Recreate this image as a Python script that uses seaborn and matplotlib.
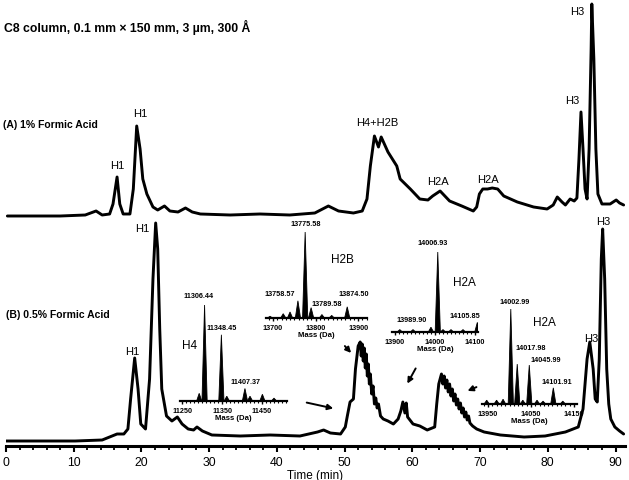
import matplotlib
matplotlib.use("Agg")
import matplotlib.pyplot as plt
from matplotlib.ticker import MultipleLocator, FixedLocator
import pandas as pd
import seaborn as sns

sns.set_theme(style="white")
plt.rcParams['font.family'] = ['Liberation Sans', 'DejaVu Sans']
plt.rcParams['text.color'] = 'black'
plt.rcParams['xtick.color'] = 'black'
plt.rcParams['axes.labelcolor'] = 'black'

# ---------------- data ----------------
# chromatogram (A) 1% formic acid: time (min), signal (arb.)
time_a = [0.2, 8.0, 11.7, 13.3, 14.2, 15.3, 15.8, 16.4, 16.8, 17.3, 18.3, 18.8, 19.3, 19.8,
          20.2, 20.8, 21.7, 22.4, 23.4, 24.2, 25.4, 26.5, 27.5, 28.7, 33.1, 37.5, 41.9, 45.6,
          47.6, 49.1, 51.3, 52.6, 53.3, 53.8, 54.4, 55.0, 55.4, 56.4, 57.7, 58.2, 59.7, 61.1,
          62.3, 63.0, 64.1, 64.8, 65.5, 67.3, 69.0, 69.5, 69.9, 70.4, 71.1, 71.8, 72.6, 73.5,
          74.5, 75.5, 77.9, 79.9, 80.8, 81.4, 82.1, 82.6, 83.3, 83.9, 84.3, 84.6, 84.9, 85.2,
          85.5, 85.8, 86.1, 86.4, 86.5, 86.8, 87.1, 87.4, 88.0, 89.2, 90.1, 90.6, 91.2]
signal_a = [230, 230, 231, 235, 231, 232, 242, 269, 242, 232, 232, 257, 320, 297,
            267, 252, 239, 236, 240, 235, 234, 238, 234, 232, 231, 232, 231, 233,
            240, 235, 233, 235, 247, 280, 310, 299, 309, 294, 280, 267, 257, 247,
            246, 250, 255, 250, 245, 240, 235, 239, 252, 257, 257, 258, 257, 250,
            247, 244, 239, 237, 241, 249, 244, 241, 247, 245, 248, 287, 334, 297,
            257, 247, 297, 397, 442, 387, 297, 252, 242, 242, 246, 243, 241]

# chromatogram (B) 0.5% formic acid
time_b = [0.0, 10.2, 14.2, 15.3, 16.4, 17.4, 18.0, 18.4, 19.0, 19.5, 19.9, 20.6, 21.2, 21.7,
          22.1, 22.4, 22.7, 23.0, 23.7, 24.5, 25.3, 26.0, 26.9, 27.7, 28.2, 29.0, 30.4, 34.6,
          39.0, 43.4, 46.0, 46.9, 47.9, 49.4, 50.1, 50.4, 50.8, 51.3, 51.6, 52.0, 52.3, 52.45,
          52.6, 52.75, 52.9, 53.05, 53.2, 53.35, 53.5, 53.65, 53.8, 54.0, 54.2, 54.4, 54.6, 54.8,
          55.0, 55.3, 55.7, 56.4, 57.2, 57.9, 58.3, 58.6, 58.9, 59.1, 59.3, 60.1, 61.1, 62.2,
          63.3, 63.6, 63.9, 64.3, 64.5, 64.7, 64.9, 65.1, 65.3, 65.5, 65.7, 65.9, 66.1, 66.3,
          66.5, 66.7, 66.9, 67.1, 67.3, 67.5, 67.7, 67.9, 68.1, 68.3, 68.5, 68.9, 69.5, 70.6,
          73.0, 76.5, 79.6, 82.6, 84.5, 85.2, 85.8, 86.2, 86.7, 87.0, 87.3, 87.6, 87.9, 88.1,
          88.4, 88.7, 89.0, 89.3, 89.9, 90.6, 91.2]
signal_b = [5, 5, 6, 9, 12, 12, 17, 47, 88, 57, 22, 17, 67, 167,
            223, 197, 117, 57, 30, 25, 29, 22, 17, 16, 19, 15, 11, 10,
            11, 10, 14, 16, 13, 12, 19, 30, 44, 47, 77, 100, 104, 90,
            102, 85, 98, 78, 92, 70, 82, 62, 72, 52, 60, 42, 48, 38,
            42, 30, 27, 25, 22, 27, 35, 44, 33, 43, 29, 22, 20, 16,
            19, 42, 62, 72, 62, 70, 58, 66, 54, 62, 50, 57, 45, 52,
            41, 47, 37, 43, 33, 38, 29, 34, 26, 30, 23, 20, 17, 14,
            11, 9, 10, 14, 19, 37, 87, 104, 77, 47, 44, 87, 187, 217,
            167, 77, 42, 27, 19, 15, 12]

# inset mass spectra: mass (Da), relative intensity (%)
h4_mass = [11293, 11306.44, 11348.45, 11362, 11407.37, 11420, 11451, 11480]
h4_int = [8, 100, 69, 5, 13, 5, 7, 3]
h4_ticks = [11250, 11350, 11450]
h4_labels = ["11306.44", "11348.45", "11407.37"]

h2b_mass = [13693, 13724, 13740, 13758.57, 13775.58, 13789.58, 13815, 13838, 13874.50]
h2b_int = [2, 5, 7, 20, 100, 12, 4, 3, 13]
h2b_ticks = [13700, 13800, 13900]
h2b_labels = ["13775.58", "13758.57", "13789.58", "13874.50"]

h2a1_mass = [13912, 13945, 13989.90, 14006.93, 14020, 14040, 14070, 14105.85]
h2a1_int = [3, 3, 6, 100, 3, 3, 3, 12]
h2a1_ticks = [13900, 14000, 14100]
h2a1_labels = ["14006.93", "13989.90", "14105.85"]

h2a2_mass = [13947, 13970, 13985, 14002.99, 14017.98, 14031, 14045.99, 14064, 14078, 14101.91, 14124]
h2a2_int = [4, 4, 5, 100, 42, 4, 41, 4, 3, 17, 3]
h2a2_ticks = [13950, 14050, 14150]
h2a2_labels = ["14002.99", "14017.98", "14045.99", "14101.91"]

# ---------------- layout helpers ----------------
W, H = 629, 481
fig = plt.figure(figsize=(W / 100, H / 100), dpi=100)


def fpos(px, py):
    return px / W, 1 - py / H


def rect(x0, y_axis, x1, height):
    return [x0 / W, (H - y_axis) / H, (x1 - x0) / W, height / H]


def ftext(px, py, s, size=8, weight='normal', ha='center'):
    x, y = fpos(px, py)
    fig.text(x, y, s, fontsize=size, fontweight=weight, ha=ha, va='center', color='black')


# ---------------- main chromatogram ----------------
ax = fig.add_axes(rect(6, 447, 625, 447))
ax.patch.set_alpha(0)
df_a = pd.DataFrame({'time': time_a, 'signal': signal_a})
df_b = pd.DataFrame({'time': time_b, 'signal': signal_b})
sns.lineplot(data=df_a, x='time', y='signal', ax=ax, color='black', lw=2.1,
             sort=False, estimator=None)
sns.lineplot(data=df_b, x='time', y='signal', ax=ax, color='black', lw=2.1,
             sort=False, estimator=None)
ax.set_xlim(0, 91.4)
ax.set_ylim(0, 447)
for s in ['top', 'right', 'left']:
    ax.spines[s].set_visible(False)
ax.spines['bottom'].set_linewidth(2.2)
ax.spines['bottom'].set_color('black')
ax.set_yticks([])
ax.set_ylabel('')
ax.xaxis.set_major_locator(MultipleLocator(10))
ax.xaxis.set_minor_locator(MultipleLocator(2))
ax.tick_params(axis='x', which='major', bottom=True, direction='out', length=4, width=1.5,
               labelsize=8.8, pad=3)
ax.tick_params(axis='x', which='minor', bottom=True, direction='out', length=3, width=1.3)
ax.set_xlabel('Time (min)', fontsize=8.5, labelpad=1)

# ---------------- insets ----------------
def draw_inset(masses, intens, x0, x1, y_axis, height, xlim, ticks):
    iax = fig.add_axes(rect(x0, y_axis, x1, height))
    iax.patch.set_alpha(0)
    hw = (xlim[1] - xlim[0]) / (x1 - x0) * 2.6
    for m, h in zip(masses, intens):
        iax.fill([m - hw, m, m + hw], [0, h, 0], color='black', lw=0.6)
    iax.set_xlim(*xlim)
    iax.set_ylim(0, 100)
    for s in ['top', 'right', 'left']:
        iax.spines[s].set_visible(False)
    iax.spines['bottom'].set_linewidth(1.6)
    iax.spines['bottom'].set_color('black')
    iax.set_yticks([])
    iax.xaxis.set_major_locator(FixedLocator(ticks))
    iax.xaxis.set_minor_locator(MultipleLocator(10))
    iax.tick_params(axis='x', which='major', bottom=True, direction='out', length=2.5,
                    width=1, labelsize=5.2, pad=1.5)
    iax.tick_params(axis='x', which='minor', bottom=True, direction='out', length=1.5, width=0.8)
    for lab in iax.get_xticklabels():
        lab.set_fontweight('bold')
    iax.set_xlabel('Mass (Da)', fontsize=5.6, fontweight='bold', labelpad=0.5)
    return iax


draw_inset(h4_mass, h4_int, 180, 287, 402, 96, (11245, 11512.5), h4_ticks)
draw_inset(h2b_mass, h2b_int, 266, 367, 319, 86, (13683.5, 13921), h2b_ticks)
draw_inset(h2a1_mass, h2a1_int, 392, 478, 333, 80, (13892.5, 14107.5), h2a1_ticks)
draw_inset(h2a2_mass, h2a2_int, 482, 577, 405, 95, (13936, 14157), h2a2_ticks)

# peak mass labels
for (px, py), s in zip([(199, 297), (222, 328), (245, 383)], h4_labels):
    ftext(px, py, s, size=5.2, weight='bold')
for (px, py), s in zip([(306, 225), (280, 295), (327, 305), (354, 295)], h2b_labels):
    ftext(px, py, s, size=5.2, weight='bold')
for (px, py), s in zip([(433, 244), (412, 320), (465, 316)], h2a1_labels):
    ftext(px, py, s, size=5.2, weight='bold')
for (px, py), s in zip([(515, 303), (531, 348), (546, 361), (557, 382)], h2a2_labels):
    ftext(px, py, s, size=5.2, weight='bold')

# inset protein labels
ftext(190, 346, 'H4', size=8.5)
ftext(342, 260, 'H2B', size=8.5)
ftext(464, 283, 'H2A', size=8.5)
ftext(544, 323, 'H2A', size=8.5)

# chromatogram peak labels
for px, py, s in [(117, 166, 'H1'), (140, 114, 'H1'), (377, 123, 'H4+H2B'), (438, 182, 'H2A'),
                  (488, 180, 'H2A'), (572, 101, 'H3'), (577, 12, 'H3'),
                  (132, 352, 'H1'), (142, 229, 'H1'), (591, 339, 'H3'), (603, 222, 'H3')]:
    ftext(px, py, s, size=8)

# title and trace labels
ftext(4, 27, 'C8 column, 0.1 mm × 150 mm, 3 µm, 300 Å', size=8.8, weight='bold', ha='left')
ftext(3, 125, '(A) 1% Formic Acid', size=7.5, weight='bold', ha='left')
ftext(6, 315, '(B) 0.5% Formic Acid', size=7.5, weight='bold', ha='left')

# arrows
for tail, head in [((304, 403), (336, 410)), ((343, 345), (353, 356)),
                   ((417, 367), (406, 387)), ((479, 387), (465, 393))]:
    ax.annotate('', xy=fpos(*head), xycoords='figure fraction',
                xytext=fpos(*tail), textcoords='figure fraction',
                arrowprops=dict(arrowstyle='-|>', color='black', lw=1.4, mutation_scale=8))

fig.savefig('out.png', dpi=100)
